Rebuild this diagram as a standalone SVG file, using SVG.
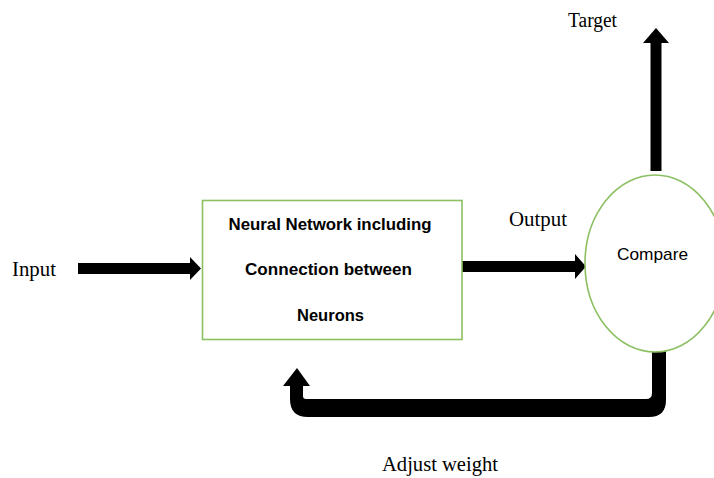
<svg xmlns="http://www.w3.org/2000/svg" width="714" height="478" viewBox="0 0 714 478">
<style>
.serif{font-family:"Liberation Serif","Times New Roman",serif;fill:#000}
.cal{font-family:"Liberation Sans",Arial,sans-serif;fill:#000}
.shape{fill:#fff;stroke:#8cc063;stroke-width:1.6}
.arrow{fill:#000;stroke:none}
</style>
<rect width="714" height="478" fill="#fff"/>
<g id="connectors">
  <path class="arrow" d="M78 263 L190 263 L190 257 L201 268.5 L190 280 L190 274 L78 274 Z"/>
  <path class="arrow" d="M462 261 L575 261 L575 254 L586 266.5 L575 279 L575 272 L462 272 Z"/>
  <path class="arrow" d="M650.5 171 L650.5 43 L643 43 L656 28 L669 43 L661.5 43 L661.5 171 Z"/>
  <path class="arrow" d="M652 350 L666 350 L666 400 Q666 417 649 417 L308 417 Q290 417 290 399 L290 386 L283 386 L297 368 L310 386 L303 386 L303 396 Q303 399 306 399 L646 399 Q652 399 652 393 Z"/>
</g>
<g id="input"><text class="serif" x="12" y="276" font-size="21" textLength="44" lengthAdjust="spacingAndGlyphs">Input</text></g>
<g id="network">
  <rect class="shape" x="202.5" y="200.5" width="259.5" height="139"/>
  <text class="cal" font-weight="bold" font-size="16.5" x="330" y="229.5" text-anchor="middle" textLength="203" lengthAdjust="spacingAndGlyphs">Neural Network including</text>
  <text class="cal" font-weight="bold" font-size="16.5" x="328.5" y="275" text-anchor="middle" textLength="167" lengthAdjust="spacingAndGlyphs">Connection between</text>
  <text class="cal" font-weight="bold" font-size="16.5" x="330.5" y="320.5" text-anchor="middle" textLength="67" lengthAdjust="spacingAndGlyphs">Neurons</text>
</g>
<g id="output-label"><text class="serif" x="509" y="226" font-size="21" textLength="58" lengthAdjust="spacingAndGlyphs">Output</text></g>
<g id="compare">
  <ellipse class="shape" cx="655" cy="263.5" rx="70" ry="88.5"/>
  <text class="cal" font-size="17" x="652.5" y="259.5" text-anchor="middle" textLength="71" lengthAdjust="spacingAndGlyphs">Compare</text>
</g>
<g id="target"><text class="serif" x="568" y="27" font-size="20" textLength="49" lengthAdjust="spacingAndGlyphs">Target</text></g>
<g id="adjust"><text class="serif" x="382" y="471" font-size="21.5" textLength="116" lengthAdjust="spacingAndGlyphs">Adjust weight</text></g>
</svg>
